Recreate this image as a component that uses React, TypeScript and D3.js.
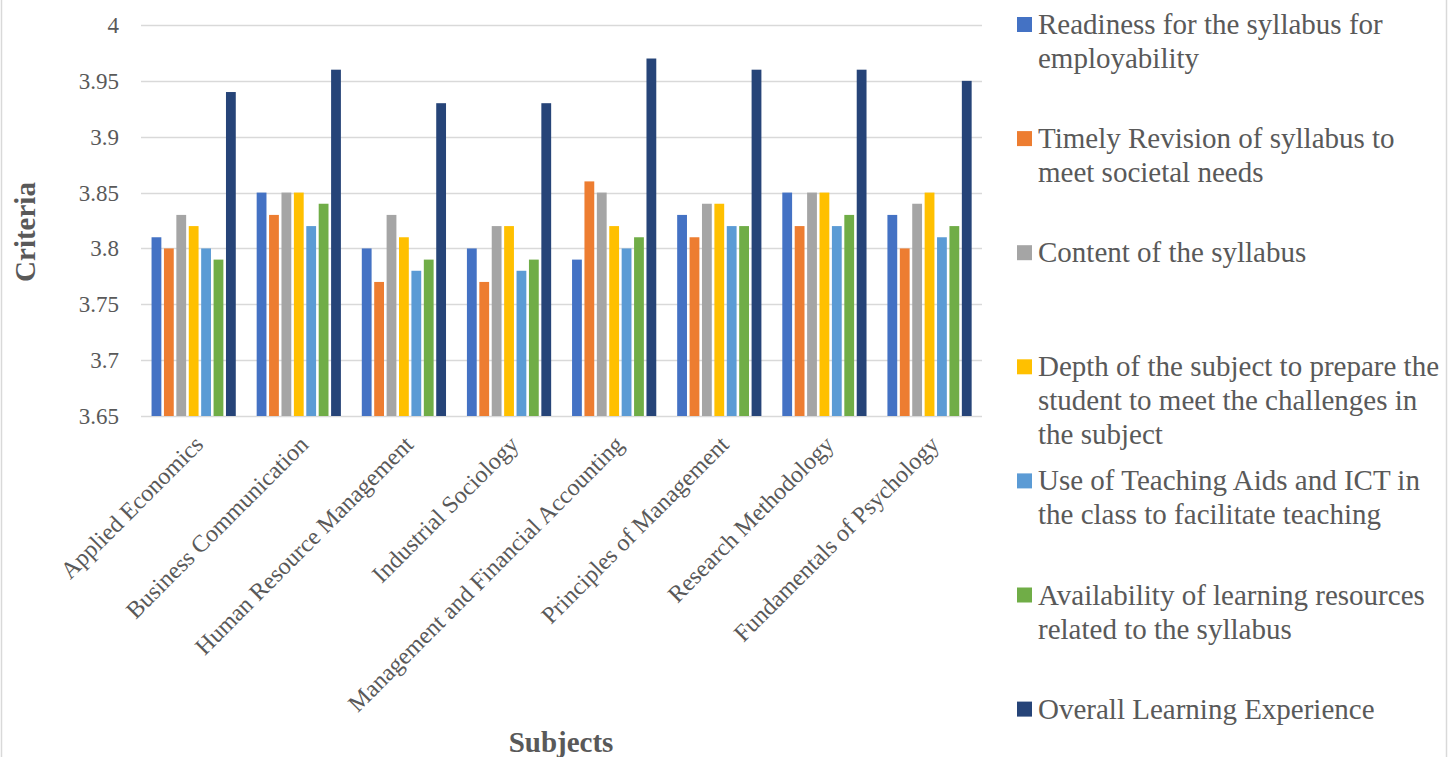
import React from "react";
import * as d3 from "d3";

const subjects = [
  "Applied Economics",
  "Business Communication",
  "Human Resource Management",
  "Industrial Sociology",
  "Management and Financial Accounting",
  "Principles of Management",
  "Research Methodology",
  "Fundamentals of Psychology",
];

const seriesNames = [
  "Readiness for the syllabus for employability",
  "Timely Revision of syllabus to meet societal needs",
  "Content of the syllabus",
  "Depth of the subject to prepare the student to meet the challenges in the subject",
  "Use of Teaching Aids and ICT in the class to facilitate teaching",
  "Availability of learning resources related to the syllabus",
  "Overall Learning Experience",
];

const legendLines = [
  ["Readiness for the syllabus for", "employability"],
  ["Timely Revision of syllabus to", "meet societal needs"],
  ["Content of the syllabus"],
  ["Depth of the subject to prepare the", "student to meet the challenges in", "the subject"],
  ["Use of Teaching Aids and ICT in", "the class to facilitate teaching"],
  ["Availability of learning resources", "related to the syllabus"],
  ["Overall Learning Experience"],
];

const colors = ["#4472C4", "#ED7D31", "#A5A5A5", "#FFC000", "#5B9BD5", "#70AD47", "#264478"];

// values[series][subject]
const readiness = [3.81, 3.85, 3.80, 3.80, 3.79, 3.83, 3.85, 3.83];
const timelyRevision = [3.80, 3.83, 3.77, 3.77, 3.86, 3.81, 3.82, 3.80];
const content = [3.83, 3.85, 3.83, 3.82, 3.85, 3.84, 3.85, 3.84];
const depth = [3.82, 3.85, 3.81, 3.82, 3.82, 3.84, 3.85, 3.85];
const teachingAids = [3.80, 3.82, 3.78, 3.78, 3.80, 3.82, 3.82, 3.81];
const availability = [3.79, 3.84, 3.79, 3.79, 3.81, 3.82, 3.83, 3.82];
const overall = [3.94, 3.96, 3.93, 3.93, 3.97, 3.96, 3.96, 3.95];

const seriesValues = [readiness, timelyRevision, content, depth, teachingAids, availability, overall];

const yTicks = [3.65, 3.7, 3.75, 3.8, 3.85, 3.9, 3.95, 4];

const W = 1448;
const H = 757;
const FONT = "'Liberation Serif', 'Times New Roman', serif";
const TEXT = "#595959";

export default function App() {
  const plotLeft = 141;
  const plotRight = 982;
  const plotTop = 25;
  const plotBottom = 416;

  const y = d3.scaleLinear().domain([3.65, 4]).range([plotBottom, plotTop]);
  const x0 = d3
    .scaleBand<string>()
    .domain(subjects)
    .range([plotLeft, plotRight])
    .paddingInner(0.174)
    .paddingOuter(0.087);
  const x1 = d3
    .scaleBand<number>()
    .domain(d3.range(seriesNames.length))
    .range([0, x0.bandwidth()]);

  const legendX = 1017;
  const legendStartY = 24.5;
  const legendStep = 114.1;

  return (
    <div style={{ position: "absolute", left: 0, top: 0 }}>
      <svg width={W} height={H} style={{ display: "block", background: "#fff" }}>
        <rect x={0} y={0} width={W} height={H} fill="#fff" />
        {/* chart border */}
        <line x1={1.5} x2={1.5} y1={0} y2={H} stroke="#d9d9d9" strokeWidth={1.5} />
        <line x1={1446.5} x2={1446.5} y1={0} y2={H} stroke="#d9d9d9" strokeWidth={1.5} />

        {/* gridlines */}
        {yTicks.map((t) => (
          <line
            key={t}
            x1={plotLeft}
            x2={plotRight}
            y1={Math.round(y(t)) + 0.5}
            y2={Math.round(y(t)) + 0.5}
            stroke="#d9d9d9"
            strokeWidth={1.3}
          />
        ))}

        {/* y tick labels */}
        {yTicks.map((t) => (
          <text
            key={"l" + t}
            x={119}
            y={y(t)}
            dy="0.35em"
            textAnchor="end"
            fontFamily={FONT}
            fontSize={23}
            fill={TEXT}
          >
            {d3.format("")(+t.toFixed(2))}
          </text>
        ))}

        {/* bars */}
        {subjects.map((s, si) => (
          <g key={s} transform={`translate(${x0(s)},0)`}>
            {seriesValues.map((vals, k) => (
              <rect
                key={k}
                x={(x1(k) as number) + 1.4}
                y={y(vals[si])}
                width={x1.bandwidth() - 2.6}
                height={plotBottom - y(vals[si])}
                fill={colors[k]}
              />
            ))}
          </g>
        ))}

        {/* x labels */}
        {subjects.map((s) => {
          const cx = (x0(s) as number) + x0.bandwidth() / 2;
          return (
            <text
              key={"x" + s}
              transform={`translate(${cx + 11},${446}) rotate(-45)`}
              textAnchor="end"
              fontFamily={FONT}
              fontSize={24}
              fill={TEXT}
            >
              {s}
            </text>
          );
        })}

        {/* axis titles */}
        <text
          transform={`translate(35,232) rotate(-90)`}
          textAnchor="middle"
          fontFamily={FONT}
          fontWeight="bold"
          fontSize={29}
          fill={TEXT}
        >
          Criteria
        </text>
        <text
          x={561}
          y={752}
          textAnchor="middle"
          fontFamily={FONT}
          fontWeight="bold"
          fontSize={29}
          fill={TEXT}
        >
          Subjects
        </text>

        {/* legend */}
        {legendLines.map((lines, k) => {
          const cy = legendStartY + k * legendStep;
          return (
            <g key={"lg" + k}>
              <rect x={legendX} y={cy - 7.5} width={15} height={15} fill={colors[k]} />
              <text fontFamily={FONT} fontSize={29} fill={TEXT}>
                {lines.map((ln, i) => (
                  <tspan key={i} x={legendX + 21} y={cy + 9.5 + i * 34}>
                    {ln}
                  </tspan>
                ))}
              </text>
            </g>
          );
        })}
      </svg>
    </div>
  );
}
